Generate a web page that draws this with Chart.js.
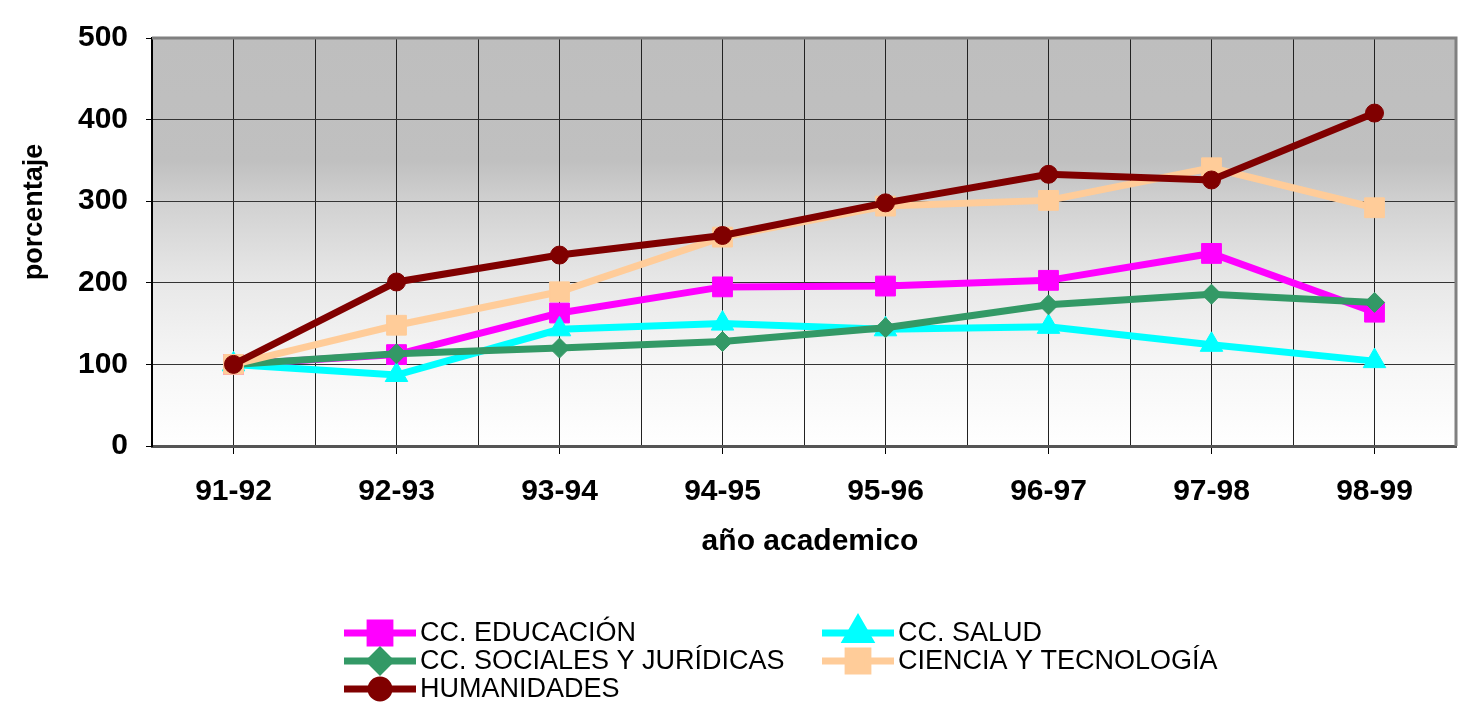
<!DOCTYPE html>
<html>
<head>
<meta charset="utf-8">
<script src="https://cdn.jsdelivr.net/npm/chart.js@4.4.1/dist/chart.umd.min.js"></script>
<style>
  html, body { margin: 0; padding: 0; background: #fff; }
  #chart { display: block; }
</style>
</head>
<body>
<canvas id="chart" width="1461" height="707"></canvas>
<script>
const categories = ['91-92', '92-93', '93-94', '94-95', '95-96', '96-97', '97-98', '98-99'];
const educacion = [100, 112, 163, 195, 196, 203, 236, 164];
const salud = [100, 87, 143, 150, 143, 146, 124, 104];
const sociales = [100, 113, 120, 128, 145, 173, 186, 176];
const ciencia = [100, 148, 189, 256, 294, 301, 341, 292];
const humanidades = [100, 201, 234, 258, 298, 333, 326, 408];
const yTicks = [0, 100, 200, 300, 400, 500];

const FONT = '"Liberation Sans", Arial, sans-serif';

function points(arr) {
    return categories.map((c, i) => ({ x: i, y: arr[i] }));
}

function series(label, arr, color, style, radius, order) {
    return {
        label: label,
        data: points(arr),
        borderColor: color,
        backgroundColor: color,
        borderWidth: 7,
        pointStyle: style,
        pointRadius: radius,
        pointHoverRadius: radius,
        pointBorderWidth: 1,
        pointBorderColor: color,
        pointBackgroundColor: color,
        tension: 0,
        order: order
    };
}

const datasets = [
    series('CC. EDUCACIÓN', educacion, '#ff00ff', 'rect', 14, 5),
    series('CC. SALUD', salud, '#00ffff', 'triangle', 13, 4),
    series('CC. SOCIALES Y JURÍDICAS', sociales, '#339966', 'rectRot', 10, 3),
    series('CIENCIA Y TECNOLOGÍA', ciencia, '#ffcc99', 'rect', 14, 2),
    series('HUMANIDADES', humanidades, '#800000', 'circle', 9, 1)
];

// legend slots: [column x of line start, row y]
const legendSlots = [[344, 633], [822, 633], [344, 661], [822, 661], [344, 689]];

const plotBackground = {
    id: 'plotBackground',
    beforeDraw(chart) {
        const { ctx, chartArea: a } = chart;
        const g = ctx.createLinearGradient(0, a.top, 0, a.bottom);
        g.addColorStop(0, '#bebebe');
        g.addColorStop(0.3, '#c0c0c0');
        g.addColorStop(0.42, '#d3d3d3');
        g.addColorStop(0.6, '#e8e8e8');
        g.addColorStop(0.8, '#f6f6f6');
        g.addColorStop(1, '#ffffff');
        ctx.save();
        ctx.fillStyle = g;
        ctx.fillRect(a.left, a.top, a.right - a.left, a.bottom - a.top);
        ctx.restore();
    },
    beforeDatasetsDraw(chart) {
        const { ctx, chartArea: a } = chart;
        ctx.save();
        ctx.strokeStyle = '#808080';
        ctx.lineWidth = 3;
        ctx.beginPath();
        ctx.moveTo(a.left, a.top);
        ctx.lineTo(a.right, a.top);
        ctx.lineTo(a.right, a.bottom);
        ctx.stroke();
        ctx.restore();
    }
};

const extras = {
    id: 'extras',
    afterDraw(chart) {
        const ctx = chart.ctx;
        ctx.save();
        ctx.fillStyle = '#000';

        // axis titles
        ctx.font = 'bold 30px ' + FONT;
        ctx.textAlign = 'center';
        ctx.textBaseline = 'middle';
        ctx.fillText('año academico', 810, 542);
        ctx.save();
        ctx.translate(35, 212);
        ctx.rotate(-Math.PI / 2);
        ctx.font = 'bold 27px ' + FONT;
        ctx.fillText('porcentaje', 0, 0);
        ctx.restore();

        // legend
        datasets.forEach((ds, i) => {
            const [x, y] = legendSlots[i];
            ctx.strokeStyle = ds.borderColor;
            ctx.lineWidth = 7;
            ctx.beginPath();
            ctx.moveTo(x, y);
            ctx.lineTo(x + 72, y);
            ctx.stroke();
            ctx.fillStyle = ds.borderColor;
            Chart.helpers.drawPoint(ctx, {
                pointStyle: ds.pointStyle,
                radius: ds.pointRadius,
                rotation: 0,
                borderWidth: 1
            }, x + 36, y);
            ctx.fillStyle = '#000';
            ctx.font = '27px ' + FONT;
            ctx.textAlign = 'left';
            ctx.textBaseline = 'middle';
            ctx.fillText(ds.label, x + 76, y + 1);
        });
        ctx.restore();
    }
};

const config = {
    type: 'line',
    data: { datasets: datasets },
    options: {
        responsive: false,
        animation: false,
        layout: { autoPadding: false, padding: { top: 38, right: 5, bottom: 0, left: 0 } },
        plugins: {
            legend: { display: false },
            tooltip: { enabled: false }
        },
        scales: {
            x: {
                type: 'linear',
                min: -0.5,
                max: 7.5,
                afterFit: s => {
                    s.height = 707 - 446;
                    s.paddingLeft = 0;
                    s.paddingRight = 0;
                },
                afterBuildTicks: s => {
                    const t = [];
                    for (let v = -0.5; v <= 7.5; v += 0.5) t.push({ value: v });
                    s.ticks = t;
                },
                ticks: {
                    autoSkip: false,
                    maxRotation: 0,
                    padding: 20,
                    color: '#000',
                    font: { family: FONT, size: 30, weight: 'bold' },
                    callback: v => Number.isInteger(v) ? categories[v] : ''
                },
                grid: {
                    color: '#222',
                    lineWidth: 1,
                    tickLength: 8,
                    tickColor: c => Number.isInteger(c.tick.value) ? '#000' : 'rgba(0,0,0,0)'
                },
                border: { color: '#555', width: 3 }
            },
            y: {
                min: 0,
                max: 500,
                afterFit: s => { s.width = 152; },
                afterBuildTicks: s => { s.ticks = yTicks.map(v => ({ value: v })); },
                ticks: {
                    padding: 18,
                    color: '#000',
                    font: { family: FONT, size: 30, weight: 'bold' }
                },
                grid: {
                    color: '#333',
                    lineWidth: 1,
                    tickLength: 6,
                    tickColor: '#000'
                },
                border: { color: '#000', width: 2 }
            }
        }
    },
    plugins: [plotBackground, extras]
};

const myChart = new Chart(document.querySelector('#chart'), config);
</script>
</body>
</html>
